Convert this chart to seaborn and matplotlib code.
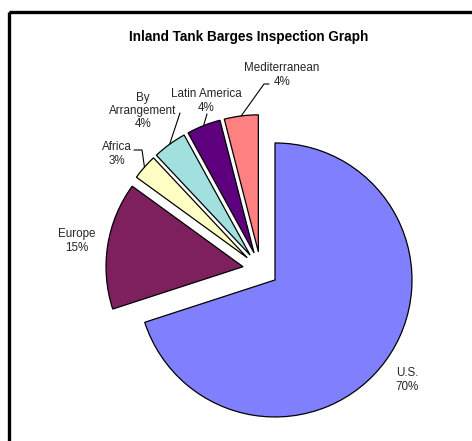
import numpy as np
import seaborn as sns
import matplotlib.pyplot as plt
from matplotlib.patches import Rectangle

# Inspection share per region (percent), clockwise from 12 o'clock
regions = ["U.S.", "Europe", "Africa", "By\nArrangement", "Latin America",
           "Mediterranean"]
shares = [70, 15, 3, 4, 4, 4]
colors = ["#8080FF", "#7E1F5E", "#FFFFC4", "#A2E0E0", "#5E007E", "#FF8080"]

# label placement in pixel coords (x, y from top)
label_pos = [(407, 380), (77, 241), (117, 154), (143, 111), (206, 101),
             (282, 75)]
# leader line: start next to label, elbow, then to wedge arc (None = none)
leader_start = [None, None, (134, 150), (180, 113), (207, 114), (269, 84)]
leader_elbow = [None, None, (142, 150), (180, 113), (207, 114), (264, 84)]

W, H = 472, 441


def main():
    sns.set_style("white")
    plt.rcParams["font.family"] = ["Liberation Sans", "DejaVu Sans"]

    fig = plt.figure(figsize=(W / 100, H / 100), dpi=100)
    ax = fig.add_axes([0, 0, 1, 1])

    # y axis inverted -> angle -90 is "up", counterclock=True turns clockwise
    wedges, _ = ax.pie(shares, colors=colors, startangle=-90,
                       counterclock=True, radius=137,
                       center=(260.6, 269.5), explode=[17.8] * len(shares),
                       wedgeprops=dict(edgecolor="black", linewidth=0.9))
    ax.set_xlim(0, W)
    ax.set_ylim(H, 0)
    ax.set_aspect("auto")
    ax.axis("off")

    for i, wedge in enumerate(wedges):
        pos = label_pos[i]
        ax.text(pos[0], pos[1], "{}\n{}%".format(regions[i], shares[i]),
                ha="center", va="center", fontsize=8.4, color="#262626",
                linespacing=1.15)
        if leader_start[i] is not None:
            mid = np.deg2rad((wedge.theta1 + wedge.theta2) / 2)
            cx, cy = wedge.center
            ex = cx + wedge.r * np.cos(mid)
            ey = cy + wedge.r * np.sin(mid)
            xs = [leader_start[i][0], leader_elbow[i][0], ex]
            ys = [leader_start[i][1], leader_elbow[i][1], ey]
            ax.plot(xs, ys, color="black", linewidth=0.8)

    ax.text(249, 37, "Inland Tank Barges Inspection Graph", ha="center",
            va="center", fontsize=9.8, fontweight="bold", color="black")

    ax.add_patch(Rectangle((9, 11.5), 500, 500, fill=False,
                           edgecolor="black", linewidth=2.4,
                           clip_on=False))

    fig.savefig("out.png", dpi=100)


if __name__ == "__main__":
    main()
